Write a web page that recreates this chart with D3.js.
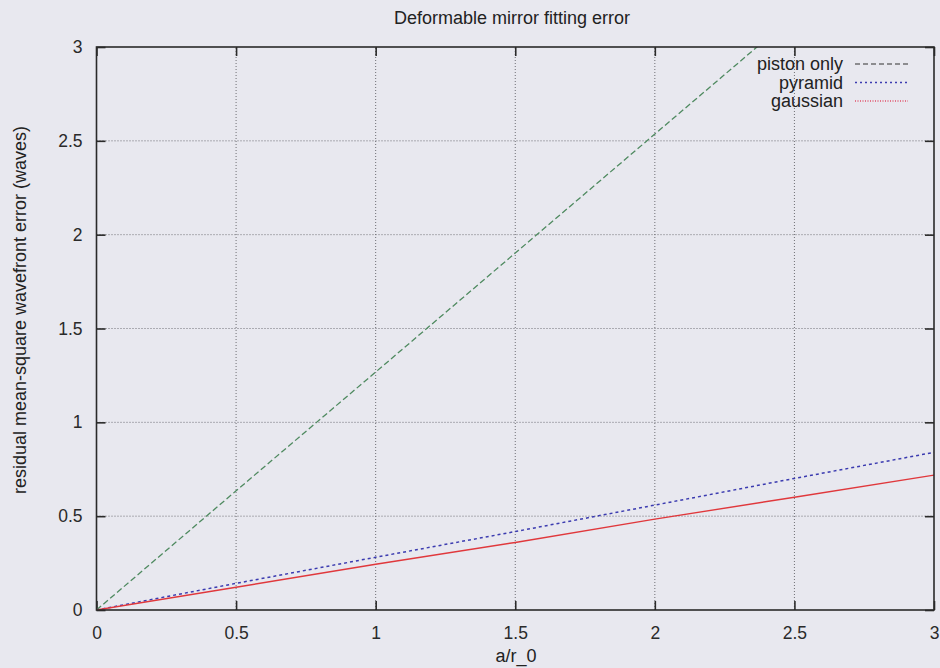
<!DOCTYPE html>
<html>
<head>
<meta charset="utf-8">
<script src="https://cdn.jsdelivr.net/npm/d3@7/dist/d3.min.js"></script>
<style>
  html, body { margin: 0; padding: 0; background: #e8e8ef; }
  svg { display: block; }
</style>
</head>
<body>
<svg id="chart" width="940" height="668"></svg>
<script>
// a/r_0 sample positions and residual rms error (waves) per influence function
const ratio    = [0, 0.5, 1, 1.5, 2, 2.5, 3];
const piston   = [0, 0.635, 1.268, 1.902, 2.536, 3.17, 3.80];
const pyramid  = [0, 0.142, 0.281, 0.418, 0.559, 0.701, 0.840];
const gaussian = [0, 0.121, 0.244, 0.360, 0.484, 0.601, 0.719];

const xTicks = [0, 0.5, 1, 1.5, 2, 2.5, 3];
const yTicks = [0, 0.5, 1, 1.5, 2, 2.5, 3];
const seriesNames = ["piston only", "pyramid", "gaussian"];

const svg = d3.select("#chart");
const font = "'Liberation Sans', Arial, Helvetica, sans-serif";

const x = d3.scaleLinear().domain([0, 3]).range([96.5, 934]);
const y = d3.scaleLinear().domain([0, 3]).range([610, 47]);

// grid
const grid = svg.append("g").attr("stroke", "#6e6e74").attr("stroke-width", 1).attr("stroke-dasharray", "1,2");
xTicks.slice(1, -1).forEach(v => grid.append("line")
  .attr("x1", x(v)).attr("x2", x(v)).attr("y1", y(0)).attr("y2", y(3)));
yTicks.slice(1, -1).forEach(v => grid.append("line")
  .attr("x1", x(0)).attr("x2", x(3)).attr("y1", y(v)).attr("y2", y(v)));

// axes (ticks point inward, mirrored on all four sides)
const tickLen = 9;
const fmt = d => String(d);
const axisStyle = g => {
  g.select(".domain").remove();
  g.selectAll(".tick line").attr("stroke", "#2a2a2a").attr("stroke-width", 1.6);
  g.selectAll(".tick text").attr("fill", "#2a2a2a").attr("font-family", font).attr("font-size", 17.5);
};
svg.append("g").attr("transform", `translate(0,${y(0)})`)
  .call(d3.axisBottom(x).tickValues(xTicks).tickFormat(fmt).tickSizeInner(-tickLen).tickSizeOuter(0).tickPadding(17))
  .call(axisStyle);
svg.append("g").attr("transform", `translate(0,${y(3)})`)
  .call(d3.axisTop(x).tickValues(xTicks).tickFormat("").tickSizeInner(-tickLen).tickSizeOuter(0))
  .call(axisStyle);
svg.append("g").attr("transform", `translate(${x(0)},0)`)
  .call(d3.axisLeft(y).tickValues(yTicks).tickFormat(fmt).tickSizeInner(-tickLen).tickSizeOuter(0).tickPadding(14))
  .call(axisStyle);
svg.append("g").attr("transform", `translate(${x(3)},0)`)
  .call(d3.axisRight(y).tickValues(yTicks).tickFormat("").tickSizeInner(-tickLen).tickSizeOuter(0))
  .call(axisStyle);

// clip for series running past the top
svg.append("clipPath").attr("id", "plotArea").append("rect")
  .attr("x", x(0)).attr("y", y(3)).attr("width", x(3) - x(0)).attr("height", y(0) - y(3));

const series = [
  { name: seriesNames[0], values: piston,   color: "#4f8a60", dash: "6,3", width: 1.3, legendColor: "#6d6d70", legendDash: "5,3" },
  { name: seriesNames[1], values: pyramid,  color: "#3b3bb0", dash: "3,3", width: 1.5, legendColor: "#3b3bb0", legendDash: "2,3" },
  { name: seriesNames[2], values: gaussian, color: "#e0383c", dash: null,  width: 1.4, legendColor: "#e0506a", legendDash: "1,1.5" }
];

const line = d3.line().x((d, i) => x(ratio[i])).y(d => y(d));
const plot = svg.append("g").attr("clip-path", "url(#plotArea)");
series.forEach(s => plot.append("path")
  .attr("d", line(s.values))
  .attr("fill", "none")
  .attr("stroke", s.color)
  .attr("stroke-width", s.width)
  .attr("stroke-dasharray", s.dash));

// frame
svg.append("rect").attr("x", x(0)).attr("y", y(3)).attr("width", x(3) - x(0)).attr("height", y(0) - y(3))
  .attr("fill", "none").attr("stroke", "#2a2a2a").attr("stroke-width", 1.6);

// legend
const legend = svg.append("g").attr("font-family", font).attr("font-size", 18).attr("fill", "#222");
series.forEach((s, i) => {
  const cy = 64 + i * 18.5;
  legend.append("text").attr("x", 843).attr("y", cy).attr("dy", "0.35em").attr("text-anchor", "end").text(s.name);
  legend.append("line").attr("x1", 855).attr("x2", 908).attr("y1", cy).attr("y2", cy)
    .attr("stroke", s.legendColor).attr("stroke-width", 1.5).attr("stroke-dasharray", s.legendDash);
});

// titles
svg.append("text").attr("x", 512).attr("y", 24).attr("text-anchor", "middle")
  .attr("font-family", font).attr("font-size", 18).attr("fill", "#222").text("Deformable mirror fitting error");
svg.append("text").attr("x", 516).attr("y", 662).attr("text-anchor", "middle")
  .attr("font-family", font).attr("font-size", 18).attr("fill", "#222").text("a/r_0");
svg.append("text").attr("transform", `translate(26,${310}) rotate(-90)`).attr("text-anchor", "middle")
  .attr("font-family", font).attr("font-size", 18).attr("fill", "#222")
  .text("residual mean-square wavefront error (waves)");
</script>
</body>
</html>
